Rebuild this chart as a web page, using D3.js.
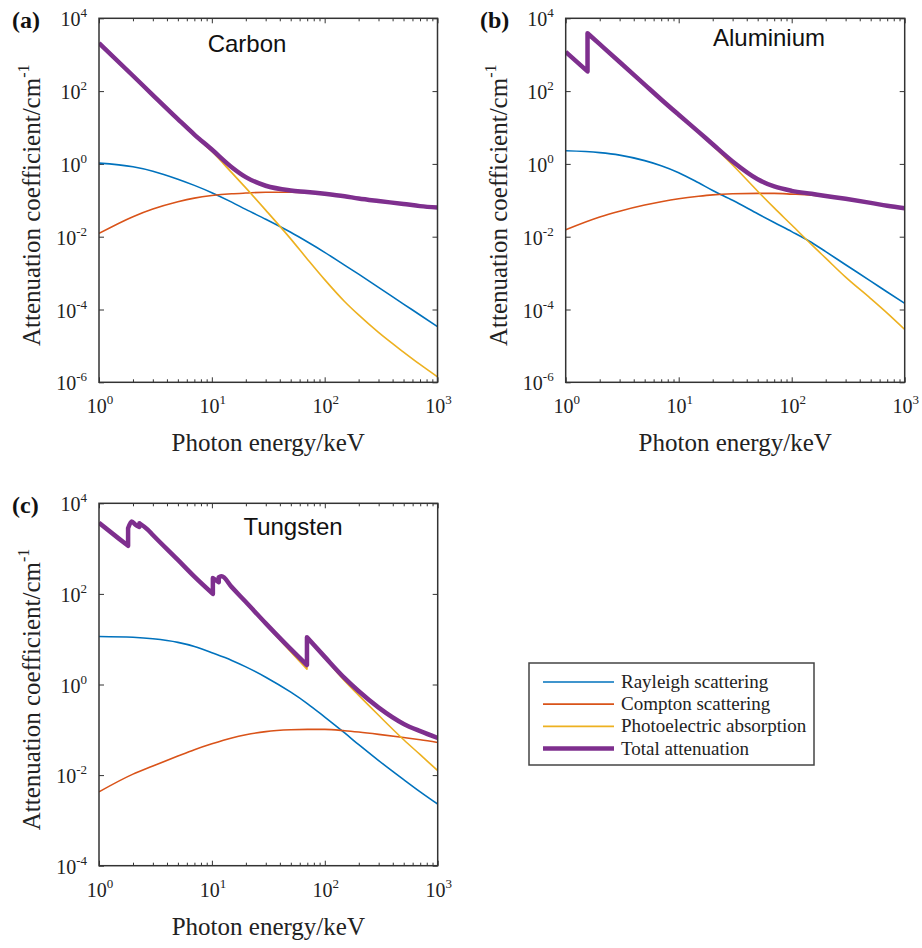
<!DOCTYPE html>
<html>
<head>
<meta charset="utf-8">
<script src="https://cdn.jsdelivr.net/npm/d3@7"></script>
<style>
  html, body { margin: 0; padding: 0; background: #fff; }
  svg { display: block; }
</style>
</head>
<body>
<div id="chart"></div>
<script>
(function() {
  'use strict';

  // photon energy grid (keV), shared by the smooth curves
  var energy = [1, 2, 3, 5, 7, 10, 15, 20, 30, 50, 70, 100, 150, 200, 300, 500, 700, 1000];

  // carbon, attenuation coefficient in 1/cm
  var carbonRayleigh = [1.05, 0.832, 0.631, 0.380, 0.257, 0.162, 0.0891, 0.0562, 0.0302, 0.0132,
    0.00724, 0.00372, 0.00166, 9.33e-4, 4.07e-4, 1.41e-4, 7.08e-5, 3.39e-5];
  var carbonCompton = [0.0123, 0.0355, 0.0575, 0.0912, 0.115, 0.135, 0.151, 0.158, 0.166, 0.166,
    0.162, 0.148, 0.126, 0.112, 0.0955, 0.0794, 0.0692, 0.0631];
  var carbonPhoto = [2090, 263, 77.6, 16.6, 6.03, 2.19, 0.575, 0.219, 0.0537, 0.00871,
    0.00245, 6.61e-4, 1.66e-4, 7.08e-5, 2.34e-5, 6.76e-6, 3.09e-6, 1.41e-6];
  var carbonTotal = [2090, 264, 78.0, 17.0, 6.4, 2.48, 0.813, 0.433, 0.251, 0.186,
    0.170, 0.151, 0.129, 0.112, 0.0955, 0.0794, 0.0692, 0.0631];

  // aluminium (K edge at 1.56 keV)
  var alRayleigh = [2.29, 2.04, 1.74, 1.23, 0.891, 0.575, 0.302, 0.186, 0.100, 0.0427,
    0.0245, 0.0138, 0.00692, 0.00389, 0.00170, 6.03e-4, 3.02e-4, 1.48e-4];
  var alCompton = [0.0155, 0.0347, 0.0501, 0.0741, 0.0912, 0.110, 0.129, 0.141, 0.151, 0.155,
    0.155, 0.148, 0.138, 0.126, 0.107, 0.0851, 0.0708, 0.0589];
  var alEdgeEnergy = [1, 1.56, 1.56, 2, 3, 5, 7, 10, 15, 20, 30, 50, 70, 100, 150, 200, 300, 500, 700, 1000];
  var alPhoto = [1170, 339, 3890, 1950, 631, 151, 58.9, 21.9, 7.08, 3.16, 0.933, 0.178,
    0.0617, 0.0209, 0.00603, 0.00257, 7.76e-4, 2.00e-4, 7.94e-5, 2.82e-5];
  var alTotal = [1200, 347, 3890, 1950, 631, 151, 58.9, 22.4, 7.59, 3.47, 1.17, 0.380,
    0.240, 0.182, 0.151, 0.132, 0.110, 0.0851, 0.0708, 0.0603];

  // tungsten (M, L and K edges)
  var wRayleigh = [11.5, 11.0, 10.2, 8.51, 6.92, 5.01, 3.39, 2.45, 1.45, 0.676,
    0.380, 0.191, 0.0851, 0.0468, 0.0209, 0.00794, 0.00427, 0.00229];
  var wCompton = [0.00427, 0.0105, 0.0158, 0.0263, 0.0363, 0.0490, 0.0661, 0.0776, 0.0912, 0.100,
    0.102, 0.102, 0.0955, 0.0891, 0.0794, 0.0676, 0.0603, 0.0525];
  var wEdgeEnergy = [1, 1.5, 1.81, 1.81, 1.95, 2.1, 2.28, 2.28, 2.7, 3, 5, 7, 10.2, 10.2, 11.5, 11.5,
    12.2, 15, 20, 30, 50, 69.5, 69.5, 100, 150, 200, 300, 500, 700, 1000];
  var wPhoto = [3720, 1660, 1150, 2820, 3980, 3390, 3020, 3630, 2630, 2000, 550, 234, 95.5, 219,
    178, 229, 240, 138, 63.1, 20.9, 5.25, 2.19, 10.5, 3.80, 1.20, 0.575, 0.209, 0.0603, 0.0282, 0.0126];
  var wTotal = [3720, 1660, 1150, 2820, 3980, 3390, 3020, 3630, 2630, 2000, 562, 240, 100, 224,
    182, 234, 245, 141, 66.1, 22.4, 6.03, 2.69, 11.0, 4.07, 1.38, 0.708, 0.309, 0.135, 0.0933, 0.0661];

  // axes ticks (decade exponents) and legend text
  var xTickExp = [0, 1, 2, 3];
  var yTickExpAB = [-6, -4, -2, 0, 2, 4];
  var yTickExpC = [-4, -2, 0, 2, 4];
  var seriesNames = ['Rayleigh scattering', 'Compton scattering', 'Photoelectric absorption', 'Total attenuation'];

  var
    WIDTH = 922,
    HEIGHT = 948,
    SERIF = '"Liberation Serif", "Times New Roman", Times, serif',
    SANS = '"Liberation Sans", Arial, Helvetica, sans-serif',
    AXIS_COLOR = '#333',
    TEXT_COLOR = '#222',
    COLORS = ['#0072BD', '#D95319', '#EDB120', '#7E2F8E'],
    WIDTHS = [1.6, 1.6, 1.6, 4.5],

    panels = [
      {
        tag: '(a)', name: 'Carbon', tagX: 12, nameX: 247, nameY: 52,
        box: {left: 99, right: 437.5, top: 18.3, bottom: 382.3},
        yExp: yTickExpAB,
        series: [
          [energy, carbonRayleigh], [energy, carbonCompton],
          [energy, carbonPhoto], [energy, carbonTotal]
        ]
      },
      {
        tag: '(b)', name: 'Aluminium', tagX: 480, nameX: 769, nameY: 46,
        box: {left: 565.7, right: 904.7, top: 18.3, bottom: 382.3},
        yExp: yTickExpAB,
        series: [
          [energy, alRayleigh], [energy, alCompton],
          [alEdgeEnergy, alPhoto], [alEdgeEnergy, alTotal]
        ]
      },
      {
        tag: '(c)', name: 'Tungsten', tagX: 12, nameX: 293, nameY: 535,
        box: {left: 99, right: 437.7, top: 503.3, bottom: 865.7},
        yExp: yTickExpC,
        series: [
          [energy, wRayleigh], [energy, wCompton],
          [wEdgeEnergy, wPhoto], [wEdgeEnergy, wTotal]
        ]
      }
    ];

  var svg = d3.select('#chart')
    .append('svg')
    .attr('width', WIDTH)
    .attr('height', HEIGHT);

  function powerLabel(sel, exp, supDy) {
    sel.append('tspan').text('10');
    sel.append('tspan')
      .attr('dy', supDy)
      .attr('font-size', 13)
      .text(exp);
  }

  // split a series at absorption edges (repeated energies) so that
  // each smooth piece is curved on its own and the jumps stay straight
  function splitAtEdges(points) {
    var pieces = [[points[0]]];
    points.slice(1).forEach(function(pt, i) {
      if (pt[0] === points[i][0]) {
        pieces.push([pt]);
      } else {
        pieces[pieces.length - 1].push(pt);
      }
    });
    return pieces;
  }

  function drawPanel(p, idx) {
    var b = p.box,
      g = svg.append('g'),
      yMin = Math.pow(10, d3.min(p.yExp)),
      yMax = Math.pow(10, d3.max(p.yExp)),
      x = d3.scaleLog().domain([1, 1000]).range([b.left, b.right]),
      y = d3.scaleLog().domain([yMin, yMax]).range([b.bottom, b.top]),
      majorX = xTickExp.map(function(e) { return Math.pow(10, e); }),
      minorX = [],
      majorY = p.yExp.map(function(e) { return Math.pow(10, e); }),
      clipId = 'clip' + idx,
      line;

    [1, 10, 100].forEach(function(d) {
      d3.range(2, 10).forEach(function(k) { minorX.push(d * k); });
    });

    g.append('clipPath').attr('id', clipId)
      .append('rect')
      .attr('x', b.left).attr('y', b.top)
      .attr('width', b.right - b.left).attr('height', b.bottom - b.top);

    // inward ticks on all four sides
    function ticks(axis, tx, ty) {
      var a = g.append('g')
        .attr('transform', 'translate(' + tx + ',' + ty + ')')
        .call(axis.tickFormat('').tickSizeOuter(0));
      a.select('.domain').remove();
      a.selectAll('line').attr('stroke', AXIS_COLOR).attr('stroke-width', 1);
    }
    ticks(d3.axisBottom(x).tickValues(majorX).tickSizeInner(-5), 0, b.bottom);
    ticks(d3.axisBottom(x).tickValues(minorX).tickSizeInner(-3), 0, b.bottom);
    ticks(d3.axisTop(x).tickValues(majorX).tickSizeInner(-5), 0, b.top);
    ticks(d3.axisTop(x).tickValues(minorX).tickSizeInner(-3), 0, b.top);
    ticks(d3.axisLeft(y).tickValues(majorY).tickSizeInner(-5), b.left, 0);
    ticks(d3.axisRight(y).tickValues(majorY).tickSizeInner(-5), b.right, 0);

    line = d3.line()
      .x(function(d) { return x(d[0]); })
      .y(function(d) { return y(d[1]); })
      .curve(d3.curveMonotoneX);

    g.append('g')
      .attr('clip-path', 'url(#' + clipId + ')')
      .selectAll('path')
      .data(p.series)
      .enter()
      .append('path')
      .attr('d', function(s) {
        return splitAtEdges(d3.zip(s[0], s[1]))
          .map(function(piece, i) {
            var d = line(piece);
            return i ? 'L' + d.slice(1) : d;
          })
          .join('');
      })
      .attr('fill', 'none')
      .attr('stroke', function(s, i) { return COLORS[i]; })
      .attr('stroke-width', function(s, i) { return WIDTHS[i]; })
      .attr('stroke-linejoin', 'round');

    g.append('rect')
      .attr('x', b.left).attr('y', b.top)
      .attr('width', b.right - b.left).attr('height', b.bottom - b.top)
      .attr('fill', 'none')
      .attr('stroke', AXIS_COLOR)
      .attr('stroke-width', 1.5);

    // tick labels
    g.selectAll('.xlab')
      .data(xTickExp)
      .enter()
      .append('text')
      .attr('class', 'xlab')
      .attr('x', function(e) { return x(Math.pow(10, e)) + 1; })
      .attr('y', b.bottom + 31)
      .attr('text-anchor', 'middle')
      .attr('font-family', SERIF)
      .attr('font-size', 20)
      .attr('fill', TEXT_COLOR)
      .each(function(e) { powerLabel(d3.select(this), e, -9); });

    g.selectAll('.ylab')
      .data(p.yExp)
      .enter()
      .append('text')
      .attr('class', 'ylab')
      .attr('x', b.left - 12)
      .attr('y', function(e) { return y(Math.pow(10, e)) + 8; })
      .attr('text-anchor', 'end')
      .attr('font-family', SERIF)
      .attr('font-size', 20)
      .attr('fill', TEXT_COLOR)
      .each(function(e) { powerLabel(d3.select(this), e, -9); });

    // axis titles
    var yt = g.append('text')
      .attr('transform', 'translate(' + (b.left - 59) + ',' + ((b.top + b.bottom) / 2 + 5) + ') rotate(-90)')
      .attr('text-anchor', 'middle')
      .attr('font-family', SERIF)
      .attr('font-size', 25)
      .attr('fill', TEXT_COLOR);
    yt.append('tspan').text('Attenuation coefficient/cm');
    yt.append('tspan').attr('dy', -11).attr('font-size', 16).text('-1');

    g.append('text')
      .attr('x', (b.left + b.right) / 2)
      .attr('y', b.bottom + 69)
      .attr('text-anchor', 'middle')
      .attr('font-family', SERIF)
      .attr('font-size', 25)
      .attr('fill', TEXT_COLOR)
      .text('Photon energy/keV');

    g.append('text')
      .attr('x', p.tagX)
      .attr('y', b.top + 10)
      .attr('font-family', SERIF)
      .attr('font-weight', 'bold')
      .attr('font-size', 24)
      .attr('fill', '#111')
      .text(p.tag);

    g.append('text')
      .attr('x', p.nameX)
      .attr('y', p.nameY)
      .attr('text-anchor', 'middle')
      .attr('font-family', SANS)
      .attr('font-size', 24)
      .attr('fill', '#111')
      .text(p.name);
  }

  panels.forEach(drawPanel);

  // legend
  var legend = svg.append('g'),
    rowY = d3.scaleLinear().domain([0, 3]).range([682, 748.5]);

  legend.append('rect')
    .attr('x', 529).attr('y', 663)
    .attr('width', 285).attr('height', 102)
    .attr('fill', '#fff')
    .attr('stroke', '#444')
    .attr('stroke-width', 1.5);

  var rows = legend.selectAll('.row')
    .data(seriesNames)
    .enter()
    .append('g')
    .attr('class', 'row')
    .attr('transform', function(d, i) { return 'translate(0,' + rowY(i) + ')'; });

  rows.append('line')
    .attr('x1', 543).attr('x2', 614)
    .attr('stroke', function(d, i) { return COLORS[i]; })
    .attr('stroke-width', function(d, i) { return WIDTHS[i]; });

  rows.append('text')
    .attr('x', 621)
    .attr('y', 6)
    .attr('font-family', SERIF)
    .attr('font-size', 19)
    .attr('fill', TEXT_COLOR)
    .text(function(d) { return d; });
})();
</script>
</body>
</html>
